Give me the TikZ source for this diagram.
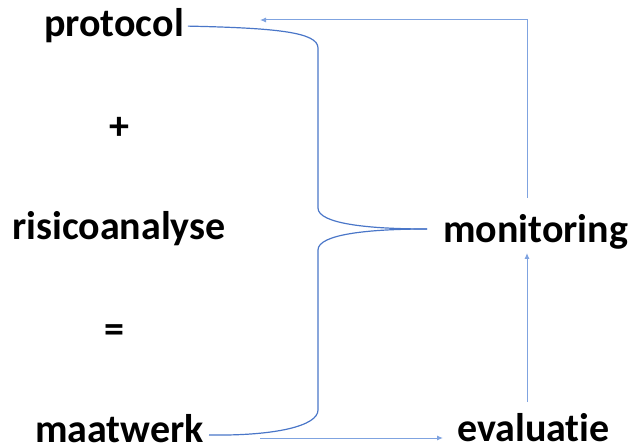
\documentclass[tikz,border=0pt]{standalone}
\usepackage{fontspec}
\setmainfont{Carlito}[Ligatures=NoCommon]
\usetikzlibrary{arrows.meta}
\definecolor{bracecol}{HTML}{4A76C8}
\definecolor{arrowcol}{HTML}{7FA3E0}

\begin{document}
\begin{tikzpicture}[x=1pt, y=-1pt,
    word/.style={inner sep=0pt, anchor=base west, font=\fontsize{40}{48}\selectfont\bfseries},
    bracel/.style={draw=bracecol, line width=1.2pt},
    flow/.style={draw=arrowcol, line width=1pt, -{Latex[length=6pt,width=5pt]}}
  ]
    \useasboundingbox (0, 0) rectangle (634, 446);

    % 1. left column: the sum
    \node [word] (protocol) at (44, 37) {protocol};
    \node [word] (plus) at (109, 140) {+};
    \node [word] (risico) at (12, 240) {risicoanalyse};
    \node [word] (equals) at (104, 342) {=};
    \node [word] (maatwerk) at (35, 442) {maatwerk};

    % 2. right column: the cycle
    \node [word] (monitoring) at (443, 243) {monitoring};
    \node [word] (evaluatie) at (457, 441) {evaluatie};

    % 3. the brace that gathers the left column
    \coordinate (tip) at (427, 229);
    \draw [bracel] (protocol.east) ++(4, 0)
        .. controls (275, 28) and (318, 32) .. (318, 48)
        -- (318, 208)
        .. controls (318, 224) and (370, 229) .. (tip);
    \draw [bracel] (tip)
        .. controls (370, 229) and (318, 234) .. (318, 250)
        -- (318, 410)
        .. controls (318, 426) and (275, 436) .. (209, 435);

    % 4. arrows of the cycle
    \coordinate (mw out) at (260, 438);
    \coordinate (ev in) at (443, 438);
    \coordinate (ev up) at (527, 402);
    \coordinate (mo in) at (527, 253);
    \coordinate (mo up) at (527, 198);
    \coordinate (pr in) at (260, 20);
    \draw [flow] (mw out) -- (ev in);
    \draw [flow] (ev up) -- (mo in);
    \draw [flow] (mo up) |- (pr in);
\end{tikzpicture}
\end{document}
